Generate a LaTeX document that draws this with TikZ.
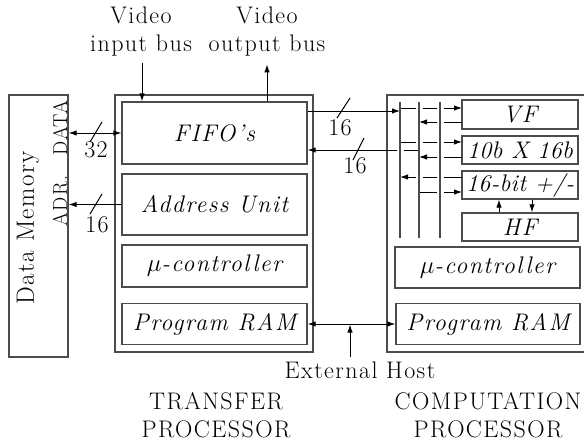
\documentclass[tikz,border=0pt]{standalone}
\usepackage{fontspec}
\setmainfont{Latin Modern Roman}[LetterSpace=6]
\usetikzlibrary{arrows.meta}
\newcommand\myrm{\fontsize{24}{28}\selectfont}
\newcommand\myit{\fontsize{24}{28}\selectfont\itshape}
\newcommand\tight{\addfontfeatures{LetterSpace=1.5}}
\begin{document}
\begin{tikzpicture}[x=1pt,y=-1pt,
  box/.style={draw=black!70, line width=1.3pt, rectangle, inner sep=0pt, font=\myit},
  frame/.style={draw=black!70, line width=1.3pt},
  conn/.style={draw=black, line width=1pt},
  arr/.style={conn, -{Latex[length=8pt,width=5.5pt]}},
  darr/.style={conn, {Latex[length=8pt,width=5.5pt]}-{Latex[length=8pt,width=5.5pt]}},
  bus/.style={draw=black!70, line width=1.3pt},
  lbl/.style={font=\myrm, inner sep=0pt, align=center},
  slash/.style={draw=black, line width=1pt}]
\useasboundingbox (0,0) rectangle (584,442);

% Data memory
\node[frame, minimum width=59, minimum height=262] (dm) at (38.5,226) {};
\node[lbl, rotate=90, font=\fontsize{25}{30}\selectfont] (dmtext) at (28,228) {Data Memory};
\node[lbl, rotate=90, font=\fontsize{20}{24}\selectfont] (datalbl) at (60,128) {DATA};
\node[lbl, rotate=90, font=\fontsize{20}{24}\selectfont] (adrlbl) at (60,201) {ADR.};

% Transfer processor
\draw[frame] (115,95) rectangle (313,352);
\node[box, minimum width=185, minimum height=62] (fifo) at (214.5,133) {FIFO's};
\node[box, minimum width=185, minimum height=61] (addr) at (214.5,204.5) {Address Unit};
\node[box, minimum width=185, minimum height=42] (mc1) at (214.5,266) {$\mu$-controller};
\node[box, minimum width=185, minimum height=41] (pram1) at (214.5,324) {Program RAM};

% Computation processor
\draw[frame] (586,95) -- (387,95) -- (387,352) -- (586,352);
\node[box, minimum width=116, minimum height=29] (vf) at (520,114.5) {VF};
\node[box, minimum width=116, minimum height=28] (mul) at (520,150) {\tight 10b X 16b};
\node[box, minimum width=116, minimum height=28] (add) at (520,185) {\tight 16-bit +/-};
\node[box, minimum width=116, minimum height=28] (hf) at (520,227) {HF};
\node[box, minimum width=185, minimum height=41] (mc2) at (487.5,267.5) {$\mu$-controller};
\node[box, minimum width=184, minimum height=41] (pram2) at (488,324) {Program RAM};

% bus rows (with gaps at crossings)
\draw[conn] (400,108) -- (415.5,108) (422.5,108) -- (436.5,108);
\draw[arr] (443.5,108) -- (462,108);
\draw[conn] (462,122) -- (443.5,122);
\draw[arr] (436.5,122) -- (419,122);
\draw[conn] (400,142) -- (415.5,142) (422.5,142) -- (436.5,142);
\draw[arr] (443.5,142) -- (462,142);
\draw[conn] (419,150) -- (403.5,150);
\draw[arr] (396.5,150) -- (fifo.east |- 0,150);
\draw[conn] (462,157) -- (443.5,157);
\draw[arr] (436.5,157) -- (419,157);
\draw[conn] (462,177) -- (443.5,177) (436.5,177) -- (422.5,177);
\draw[arr] (415.5,177) -- (400,177);
\draw[conn] (419,192) -- (436.5,192);
\draw[arr] (443.5,192) -- (462,192);
% buses
\coordinate (b1t) at (400,102); \coordinate (b1b) at (400,238);
\coordinate (b2t) at (419,102); \coordinate (b2b) at (419,238);
\coordinate (b3t) at (440,102); \coordinate (b3b) at (440,238);
\draw[bus] (b1t) -- (b1b) (b2t) -- (b2b) (b3t) -- (b3b);

% FIFO to computation bus
\draw[arr] ([yshift=22pt]fifo.east) -- (b1t |- 0,111);
\draw[slash] (337,118) -- (350,98);
\node[lbl] (n16a) at (340,128) {16};
\draw[slash] (353,160) -- (364,138);
\node[lbl] (n16b) at (355,166) {16};

% HF arrows
\draw[arr] ([xshift=-21pt]hf.north) -- ([xshift=-21pt]add.south);
\draw[arr] ([xshift=12pt]add.south) -- ([xshift=12pt]hf.north);

% data memory connections
\draw[darr] (dm.east |- fifo.west) -- (fifo.west);
\draw[slash] (90,142) -- (102,122);
\node[lbl] (n32) at (96,150) {32};
\draw[arr] (addr.west) -- (dm.east |- addr.west);
\draw[slash] (90,214) -- (102,194);
\node[lbl] (n16c) at (97,225) {16};

% video buses
\node[lbl] (vin) at (141,32) {Video\\input bus};
\node[lbl] (vout) at (267,32) {Video\\output bus};
\draw[arr] (142,63) -- ([xshift=-72.5pt]fifo.north);
\draw[arr] ([xshift=52.5pt]fifo.north) -- ++(0,-37);

% external host
\draw[darr] (pram1.east) -- (pram2.west);
\coordinate (ehtail) at (350,357);
\draw[arr] (ehtail) -- (350,324.5);
\node[lbl] (eh) at (360,370) {External Host};

% titles
\node[lbl] (tp) at (216,415) {TRANSFER\\PROCESSOR};
\node[lbl] (cp) at (488,415) {COMPUTATION\\PROCESSOR};
\end{tikzpicture}
\end{document}
